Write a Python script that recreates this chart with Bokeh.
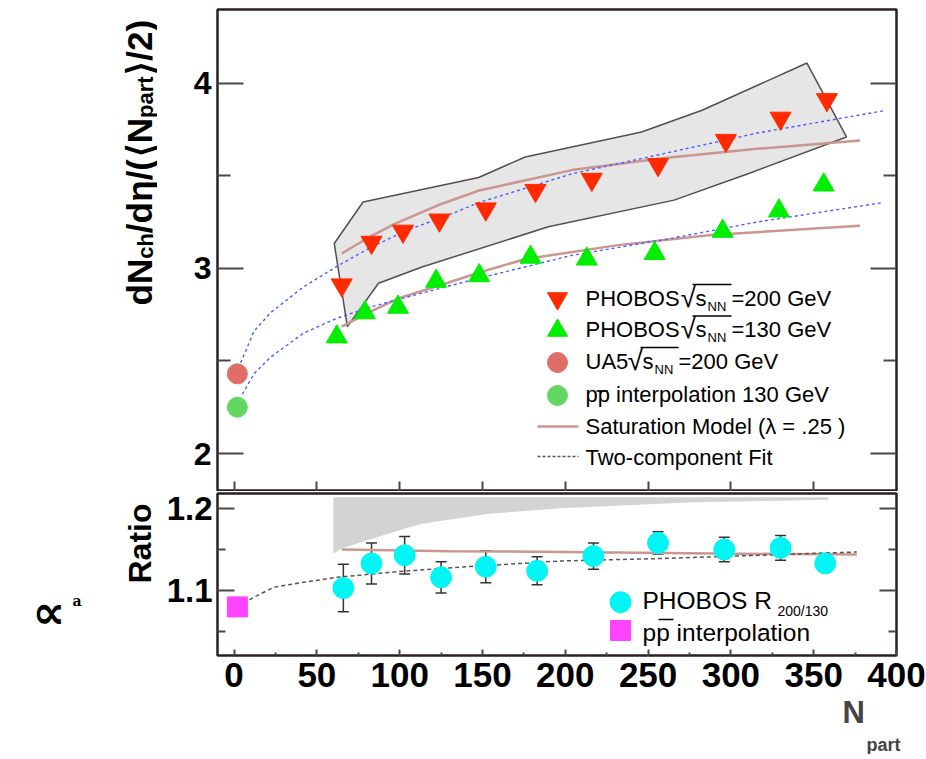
import math
from bokeh.plotting import figure
from bokeh.models import (Range1d, LinearAxis, FixedTicker, Label, Whisker,
                          TeeHead, ColumnDataSource, Title)
from bokeh.layouts import column, row
from bokeh.embed import file_html
from bokeh.resources import INLINE

# ---------------- data ----------------
npart_200 = [65, 83, 102, 124, 152, 182, 216, 256, 297, 330, 358]
dndeta_200 = [2.91, 3.14, 3.20, 3.26, 3.32, 3.42, 3.48, 3.56, 3.69, 3.81, 3.91]
npart_130 = [62, 79, 99, 122, 148, 179, 213, 254, 295, 329, 356]
dndeta_130 = [2.63, 2.76, 2.79, 2.93, 2.96, 3.06, 3.05, 3.08, 3.20, 3.31, 3.45]
ua5_npart = [2]
ua5_dndeta = [2.43]
pp130_npart = [2]
pp130_dndeta = [2.25]

syst_npart = [60.5, 77.9, 147.7, 175.8, 246.1, 282.6, 345.9, 369.8, 310.8, 265.7, 189.8, 113.9, 87.2, 68.4]
syst_dndeta = [3.134, 3.358, 3.49, 3.601, 3.736, 3.853, 4.108, 3.709, 3.512, 3.368, 3.224, 3.008, 2.919, 2.685]

sat200_npart = [65, 82, 97, 123, 148, 204, 260, 316, 378]
sat200_val = [3.08, 3.17, 3.24, 3.34, 3.42, 3.53, 3.595, 3.645, 3.69]
sat130_npart = [65, 82, 100, 125, 149, 176, 232, 288, 378]
sat130_val = [2.685, 2.765, 2.84, 2.91, 2.98, 3.05, 3.125, 3.18, 3.23]
fit200_npart = [4, 12, 22, 42, 62, 82, 103, 133, 148, 204, 260, 316, 392]
fit200_val = [2.49, 2.66, 2.76, 2.90, 3.01, 3.11, 3.20, 3.30, 3.355, 3.51, 3.62, 3.73, 3.85]
fit130_npart = [5, 12, 22, 42, 62, 82, 113, 143, 204, 260, 316, 392]
fit130_val = [2.32, 2.43, 2.52, 2.65, 2.73, 2.79, 2.865, 2.935, 3.07, 3.155, 3.25, 3.355]

ratio_npart = [66, 83, 103, 125, 152, 183, 217, 256, 296, 330, 357]
ratio_val = [1.103, 1.133, 1.143, 1.116, 1.129, 1.124, 1.142, 1.158, 1.150, 1.152, 1.133]
ratio_err = [0.029, 0.025, 0.023, 0.019, 0.0195, 0.017, 0.016, 0.0136, 0.015, 0.015, 0.010]
pp_ratio_npart = [2]
pp_ratio_val = [1.080]
rsyst_npart = [60, 64.4, 76.5, 92.6, 112.7, 152.9, 197.2, 277.6, 359]
rsyst_lo = [1.1448, 1.1508, 1.1589, 1.169, 1.1812, 1.1934, 1.2004, 1.2077, 1.2106]
rsyst_hi = [1.2138, 1.2138, 1.2138, 1.2138, 1.2138, 1.2138, 1.2138, 1.2138, 1.2138]
rsat_npart = [65, 130, 200, 290, 376]
rsat_val = [1.150, 1.148, 1.147, 1.145, 1.144]
rfit_npart = [2, 4, 12, 24, 42, 62, 93, 133, 173, 197, 258, 318, 376]
rfit_val = [1.080, 1.0817, 1.0918, 1.104, 1.110, 1.116, 1.122, 1.128, 1.133, 1.136, 1.139, 1.143, 1.147]

x_ticks = [0, 50, 100, 150, 200, 250, 300, 350, 400]
x_ticks_top = [0, 50, 100, 150, 200, 250, 300, 350]
x_minor = [25, 75, 125, 175, 225, 275, 325, 375]
y_ticks_top = [2, 3, 4]
y_minor_top = [2.5, 3.5]
y_ticks_bot = [1.1, 1.2]
y_minor_bot = [1.05, 1.15]

# ---------------- styles ----------------
FONT = "Liberation Sans"
INK = "#2a2020"
TICK = "#484848"
RED = "#ff2a00"
GREEN = "#00ee00"
UA5 = "#de6e66"
PPG = "#62d862"
CYAN = "#00f5f5"
MAG = "#ff44ff"
BROWN = "#c99690"
BLUE = "#4d5cff"
GRAYD = "#555555"

LEFT_W = 157      # width of the strip that carries the outer axis titles
FRAME_L = 217     # page x of the frames' left edge


def style_axis(ax, ticks, minor, tin, min_in, size=None, standoff=6):
    ax.ticker = FixedTicker(ticks=ticks, minor_ticks=minor)
    ax.major_tick_in = tin
    ax.major_tick_out = 0
    ax.minor_tick_in = min_in
    ax.minor_tick_out = 0
    ax.major_tick_line_color = TICK
    ax.major_tick_line_width = 2
    ax.minor_tick_line_color = TICK
    ax.minor_tick_line_width = 2
    ax.axis_line_color = None
    if size:
        ax.major_label_text_font = FONT
        ax.major_label_text_font_style = "bold"
        ax.major_label_text_font_size = size
        ax.major_label_text_color = "black"
        ax.major_label_standoff = standoff
    else:
        ax.major_label_text_font_size = "0px"
        ax.major_label_text_alpha = 0
        ax.major_label_standoff = 0


def lab(fig, x, y, text, size, bold=False, angle=0.0, font=FONT, align="left",
        baseline="middle", color="black", px=False):
    kw = dict(x_range_name="px", y_range_name="py") if px else {}
    fig.add_layout(Label(x=x, y=y, text=text, text_font=font, text_font_size=f"{size}px",
                         text_font_style="bold" if bold else "normal", angle=angle,
                         text_align=align, text_baseline=baseline, text_color=color, **kw))


xr = Range1d(-10, 400)

# ================= upper panel =================
p1 = figure(width=926 - LEFT_W, height=491, frame_width=679, frame_height=482,
            x_range=xr, y_range=Range1d(1.795, 4.397),
            min_border_left=FRAME_L - LEFT_W, min_border_right=30, min_border_top=9,
            min_border_bottom=0, output_backend="svg", toolbar_location=None)
p1.title.visible = False
p1.grid.visible = False
p1.outline_line_color = INK
p1.outline_line_width = 2.5
p1.background_fill_color = "white"
p1.border_fill_color = "white"
style_axis(p1.xaxis[0], x_ticks_top, [], 10, 0)
style_axis(p1.yaxis[0], y_ticks_top, y_minor_top, 26, 13, size="32px", standoff=6)
r_ax1 = LinearAxis()
style_axis(r_ax1, y_ticks_top, y_minor_top, 26, 13)
p1.add_layout(r_ax1, "right")

p1.extra_x_ranges = {"px": Range1d(217, 896)}
p1.extra_y_ranges = {"py": Range1d(491, 9)}

p1.patch(syst_npart, syst_dndeta, fill_color="#e6e6e6", line_color="#505050", line_width=1.5)
p1.line(sat200_npart, sat200_val, line_color=BROWN, line_width=2.5)
p1.line(sat130_npart, sat130_val, line_color=BROWN, line_width=2.5)
p1.line(fit200_npart, fit200_val, line_color=BLUE, line_width=1.4, line_dash="3 3")
p1.line(fit130_npart, fit130_val, line_color=BLUE, line_width=1.4, line_dash="3 3")
p1.scatter(npart_200, dndeta_200, marker="inverted_triangle", size=21, fill_color=RED, line_color=RED)
p1.scatter(npart_130, dndeta_130, marker="triangle", size=21, fill_color=GREEN, line_color=GREEN)
p1.scatter(ua5_npart, ua5_dndeta, marker="circle", size=20, fill_color=UA5, line_color=UA5)
p1.scatter(pp130_npart, pp130_dndeta, marker="circle", size=20, fill_color=PPG, line_color=PPG)

# legend keys (page-pixel space of the legend box)
LKX = 557
p1.scatter([LKX], [298], marker="inverted_triangle", size=20, fill_color=RED, line_color=RED,
           x_range_name="px", y_range_name="py")
p1.scatter([LKX], [330], marker="triangle", size=20, fill_color=GREEN, line_color=GREEN,
           x_range_name="px", y_range_name="py")
p1.scatter([LKX], [362], marker="circle", size=20, fill_color=UA5, line_color=UA5,
           x_range_name="px", y_range_name="py")
p1.scatter([LKX], [395], marker="circle", size=20, fill_color=PPG, line_color=PPG,
           x_range_name="px", y_range_name="py")
p1.line([537, 578], [426, 426], line_color=BROWN, line_width=2.5, x_range_name="px", y_range_name="py")
p1.line([537, 578], [456, 456], line_color=GRAYD, line_width=1.5, line_dash="3 2",
        x_range_name="px", y_range_name="py")
# radical bars / overline
p1.segment(x0=[692, 692, 640, 596], y0=[284, 315.5, 347, 390.5],
           x1=[731, 731, 678, 607], y1=[284, 315.5, 347, 390.5],
           line_color="black", line_width=1.6, x_range_name="px", y_range_name="py")

LS = 22
for cy, energy in ((297.5, "=200 GeV"), (329, "=130 GeV")):
    lab(p1, 585, cy, "PHOBOS", LS, px=True)
    lab(p1, 680, cy - 1, "√", 28, px=True)
    lab(p1, 695, cy, "s", LS, px=True)
    lab(p1, 707, cy + 8, "NN", 13, px=True)
    lab(p1, 731, cy, energy, LS, px=True)
lab(p1, 585, 361, "UA5", LS, px=True)
lab(p1, 627, 360, "√", 28, px=True)
lab(p1, 642, 361, "s", LS, px=True)
lab(p1, 654, 369, "NN", 13, px=True)
lab(p1, 678, 361, "=200 GeV", LS, px=True)
lab(p1, 585, 394, "pp interpolation 130 GeV", LS, px=True)
lab(p1, 585, 426, "Saturation Model (λ = .25 )", LS, px=True)
lab(p1, 585, 457, "Two-component Fit", LS, px=True)

# ================= lower panel =================
p2 = figure(width=926 - LEFT_W, height=268, frame_width=679, frame_height=162,
            x_range=xr, y_range=Range1d(1.0207, 1.2183),
            min_border_left=FRAME_L - LEFT_W, min_border_right=30, min_border_top=2,
            min_border_bottom=0, output_backend="svg", toolbar_location=None)
p2.title.visible = False
p2.grid.visible = False
p2.outline_line_color = INK
p2.outline_line_width = 2.5
p2.background_fill_color = "white"
p2.border_fill_color = "white"
style_axis(p2.xaxis[0], x_ticks, x_minor, 6, 3, size="35px", standoff=7)
style_axis(p2.yaxis[0], y_ticks_bot, y_minor_bot, 17, 8, size="33px", standoff=5)
r_ax2 = LinearAxis()
style_axis(r_ax2, y_ticks_bot, y_minor_bot, 17, 8)
p2.add_layout(r_ax2, "right")

# x-axis title N_part: "N" and its subscript as stacked titles under the axis
p2.add_layout(Title(text="N", align="left", offset=842 - FRAME_L, standoff=6,
                    text_font=FONT, text_font_size="31px", text_font_style="bold"), "below")
p2.add_layout(Title(text="part", align="left", offset=866 - FRAME_L, standoff=0,
                    text_font=FONT, text_font_size="18px", text_font_style="bold"), "below")

p2.extra_x_ranges = {"px": Range1d(217, 896)}
p2.extra_y_ranges = {"py": Range1d(655, 493)}

p2.varea(x=rsyst_npart, y1=rsyst_lo, y2=rsyst_hi, fill_color="#d3d3d3")
p2.line(rsat_npart, rsat_val, line_color=BROWN, line_width=2.5)
p2.line(rfit_npart, rfit_val, line_color=GRAYD, line_width=1.5, line_dash="4 3")

src = ColumnDataSource(dict(x=ratio_npart, y=ratio_val,
                            upper=[v + e for v, e in zip(ratio_val, ratio_err)],
                            lower=[v - e for v, e in zip(ratio_val, ratio_err)]))
wh = Whisker(source=src, base="x", upper="upper", lower="lower",
             line_color="#333333", line_width=1.5,
             upper_head=TeeHead(size=11, line_color="#333333", line_width=1.5),
             lower_head=TeeHead(size=11, line_color="#333333", line_width=1.5))
wh.level = "underlay"
p2.add_layout(wh)
p2.scatter("x", "y", source=src, marker="circle", size=21, fill_color=CYAN, line_color=CYAN)
p2.scatter(pp_ratio_npart, pp_ratio_val, marker="square", size=20, fill_color=MAG, line_color=MAG)

# lower legend
p2.scatter([620], [601.7], marker="circle", size=21, fill_color=CYAN, line_color=CYAN,
           x_range_name="px", y_range_name="py")
p2.scatter([620], [630], marker="square", size=20, fill_color=MAG, line_color=MAG,
           x_range_name="px", y_range_name="py")
p2.segment(x0=[658], y0=[619], x1=[673], y1=[619], line_color="black", line_width=1.6,
           x_range_name="px", y_range_name="py")
lab(p2, 642, 599.5, "PHOBOS R", 24.5, px=True)
lab(p2, 777, 610, "200/130", 14, px=True)
lab(p2, 642, 632, "pp interpolation", 24.5, px=True)

# ================= strip on the left with the rotated axis titles =================
left = figure(width=LEFT_W, height=759, frame_width=LEFT_W, frame_height=759,
              x_range=Range1d(0, LEFT_W), y_range=Range1d(759, 0),
              min_border=0, min_border_left=0, min_border_right=0, min_border_top=0,
              min_border_bottom=0, output_backend="svg", toolbar_location=None)
left.title.visible = False
left.axis.visible = False
left.grid.visible = False
left.outline_line_color = None
left.background_fill_color = "white"
left.border_fill_color = "white"

# pieces are anchored at their upper end (text reads bottom to top)
S, s_ = 35, 22
xb, xs = 139, 145
y = 305
pieces = [("dN", S, 1.333), ("ch", s_, 1.167), ("/d", S, 0.889), ("η", S, 0.62),
          ("/(", S, 0.611), ("⟨", S, 0.45), ("N", S, 0.722), ("part", s_, 1.889),
          ("⟩", S, 0.45), ("/2)", S, 1.167)]
for txt, sz, w in pieces:
    y_end = y - sz * w
    lab(left, xs if sz == s_ else xb, y_end, txt, sz, bold=True, angle=math.pi / 2,
        align="right", baseline="alphabetic")
    y = y_end
lab(left, 139, 503, "Ratio", 32, bold=True, angle=math.pi / 2, align="right",
    baseline="alphabetic")
lab(left, 32, 611, "∝", 46, bold=True, font="DejaVu Sans")
lab(left, 72, 600, "a", 14, bold=True, font="DejaVu Serif")

layout = row(left, column(p1, p2, spacing=0), spacing=0)
open("out.html", "w").write(file_html(layout, INLINE))
